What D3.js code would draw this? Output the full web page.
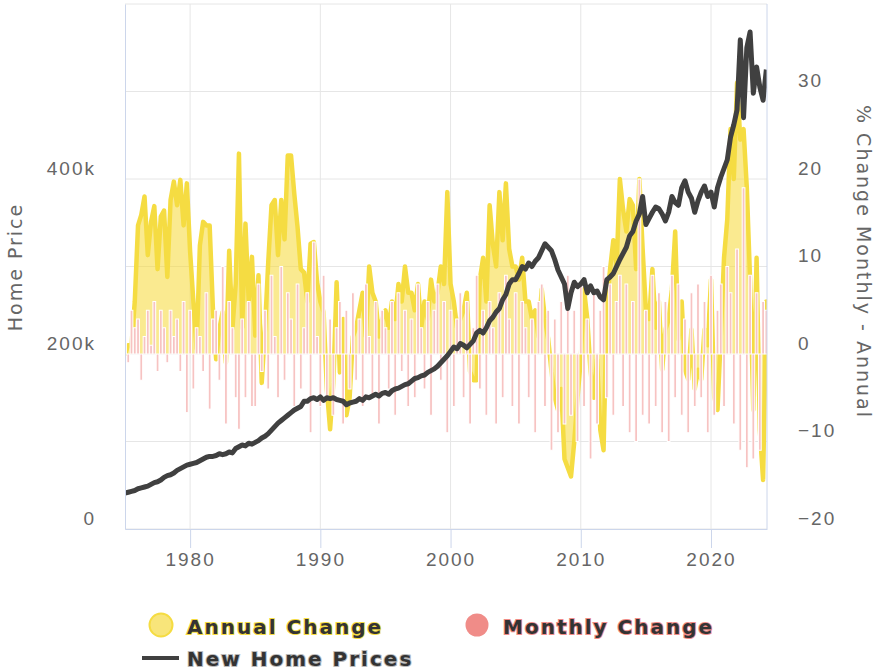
<!DOCTYPE html>
<html>
<head>
<meta charset="utf-8">
<script src="https://cdn.jsdelivr.net/npm/d3@7"></script>
<style>
  body { margin: 0; background: #fff; }
  svg { display: block; font-family: "DejaVu Sans", sans-serif; }
</style>
</head>
<body>
<script>
// quarterly points, first one is 1975 Q1
const startYear = 1975

// new home price, thousands of $
const priceK = [
  41, 42, 43, 44,   46, 47, 48, 49,   51, 53, 54, 56,   59, 61, 62, 64,   67, 69, 71, 73,
  74, 75, 76, 78,   80, 82, 83, 83,   84, 86, 85, 86,   88, 87, 92, 94,   96, 95, 98, 97,
  99, 101, 104, 106,   109, 113, 117, 121,   124, 127, 130, 133,   136, 138, 140, 146,   146, 149, 150, 148,
  151, 147, 150, 149,   150, 148, 147, 146,   142, 144, 145, 146,   149, 147, 151, 150,   152, 154, 152, 155,
  156, 154, 158, 160,   161, 163, 165, 166,   169, 172, 173, 175,   176, 179, 181, 183,   186, 190, 194, 198,
  203, 208, 206, 212,   210, 207, 211, 215,   224, 227, 224, 230,   238, 242, 248, 252,   262, 268, 280, 285,
  285, 292, 300, 297,   304, 300, 306, 310,   318, 326, 322, 318,   308, 296, 288, 280,   252, 270, 282, 277,
  280, 285, 270, 278,   270, 272, 265, 262,   285, 288, 292, 300,   308, 315, 322, 335,   340, 352, 360, 380,
  348, 355, 362, 368,   366, 360, 352, 362,   380, 373, 370, 390,   398, 385, 378, 362,   375, 385, 392, 380,
  385, 368, 390, 402,   412, 422, 448, 462,   479, 559, 470, 550,   568, 498, 528, 505,   490, 525
]

// year over year change, %
const annualPct = [
  0, 1, 1, 6,   14.7, 15.9, 18, 11.3,   15.1, 16.9, 9.7, 15.7,   16.4, 8.8, 17.6, 19.7,   17, 19.9, 14.7, 19.5,
  11.7, 6, 0.6, 12.4,   15.1, 14.7, 14.7, 5.2,   -0.6, 2.9, 4.8, -1,   11.8, 2.9, 8, 22.9,   3, 14.9, 6, 11.1,
  2.1, 9, -3.3, 2.9,   10.5, 17, 17.6, 11.3,   17.6, 13.1, 22.7, 22.7,   18.3, 14.5, 9.7, 9.3,   6, 12.6, 12.8, 8.2,
  6, 4.8, -4, -8.6,   -3.3, 8.2, -2.1, 4,   -7, -5, 2, 3,   5, 7, 2, 10,   7, 6, 2, 4,
  5, 3, 6, 4,   8, 6, 10, 7,   7, 5, 8, 3,   6, 4, 8.5, 6,   7, 10, 8, 18.5,
  8, 6, 3, 4,   5, 7, -2, -3,   -3, 8.5, 11, 6,   17, 12.5, 10, 18.5,   13, 19.5, 12, 10,
  10, 8.5, 11, 6,   6, 4, 5, 2,   7.4, 4, 1.7, -2,   -5, -6.4, -4, -12,   -13, -14, -10, -5,
  -0.6, 7.4, 4, -2,   -5, -0.6, -8.7, -11,   6, 9.7, 13, 10,   20, 16.5, 14, 17.7,   17, 9.7, 20, 12,
  5, 4, 9.7, 3,   6, -1.8, 2.8, 4,   7.4, 14, 1.7, 6,   -1.8, -2.9, 2.8, -4,   -1.8, -2.9, 2.8, 1,
  8.5, -5, -6.4, 2,   11, 15.4, 25.7, 20,   31, 24.5, 25.7, 19,   8.5, -6.4, 11, -8.7,   -14.4, 6
]

// month over month change, %
const monthlyPct = [
  2, -1, 5, 3,   4, -3, 2, 5,   1, 6, -2, 5,   3, -1, 5, 2,   4, -2, 6, -6.7,
  5, -4, 3, 2,   -2, 7, -6.3, 4,   5, -3, 10, -8,   6, 3, -5, -8.6,   4, -5, 6, -6,
  -6, 8, -2, 5,   -4, 9, 2, -5,   10, -3, 7, 4,   -6, 8, -4, 3,   7, -9, 12.8, 2,
  -6, 9, -5, 4,   -7, 3, 6, -8,   5, -4, 7, -3,   4, -6, 8, 2,   -5, 6, -8, 5,
  3, -4, 6, -7,   7, -2, 5, -6,   4, -5, 8, 3,   -4, 6, -7, 5,   8, -3, 6, -9,
  5, -6, 4, 7,   -5, 6, -8, 3,   9, -4, 5, -7,   6, 3, -8, 7,   -5, 9, 4, -6,
  7, -8, 6, 3,   -5, 4, -9, 6,   8, -6, 5, -11,   4, -9, 6, -8,   9, -7, 5, -10,
  8, -6, 4, -12,   7, -8, 5, 10,   -5, 8, -7, 6,   9, -6, 8, -9,   6, -10, 20, -7,
  5, -8, 9, -6,   7, -9, 6, -10,   9, -5, 8, -7,   4, -9, 7, -6,   8, -5, 6, -9,
  9, -7, 5, 8,   -6, 10, 7, -8,   12, -11, 19, -13,   9, -12, 7, -11,   6, 5
]

const yearTicks = [1980, 1990, 2000, 2010, 2020]
const priceTicks = [0, 200, 400]
const pctTicks = [-20, -10, 0, 10, 20, 30]
const gridPct = [-20, -10, 0, 10, 20, 30, 40]

const quarters = priceK.map((d, i) => startYear + i / 4)

const width = 874, height = 671
const plot = { left: 125, right: 767, top: 4, bottom: 529 }

const colors = {
  annual: "#f5dc42",
  annualFill: "rgba(245, 216, 53, 0.55)",
  monthly: "#f08c88",
  monthlyBar: "#f7c3c2",
  price: "#404040",
  grid: "#e6e6e6",
  axis: "#ccd6eb",
  text: "#666666"
}

var svg = d3.select("body").append("svg")
  .attr("width", width)
  .attr("height", height)

var x = d3.scaleLinear().domain([1975, 2024.3]).range([plot.left, plot.right])
var yPrice = d3.scaleLinear().domain([0, 600]).range([plot.bottom, plot.top])
var yPct = d3.scaleLinear().domain([-20, 40]).range([plot.bottom, plot.top])

// grid
svg.append("g").selectAll("line")
  .data(gridPct)
  .join("line")
  .attr("x1", plot.left).attr("x2", plot.right)
  .attr("y1", d => yPct(d)).attr("y2", d => yPct(d))
  .attr("stroke", colors.grid)
svg.append("g").selectAll("line")
  .data(yearTicks)
  .join("line")
  .attr("x1", d => x(d)).attr("x2", d => x(d))
  .attr("y1", plot.top).attr("y2", plot.bottom)
  .attr("stroke", colors.grid)

svg.append("clipPath").attr("id", "clip")
  .append("rect")
  .attr("x", plot.left).attr("y", plot.top)
  .attr("width", plot.right - plot.left).attr("height", plot.bottom - plot.top)

var chart = svg.append("g").attr("clip-path", "url(#clip)")

// annual change: area + thick line
var annual = quarters.map((q, i) => [q, annualPct[i]])
chart.append("path")
  .datum(annual)
  .attr("fill", colors.annualFill)
  .attr("d", d3.area().x(d => x(d[0])).y0(yPct(0)).y1(d => yPct(d[1])))
chart.append("path")
  .datum(annual)
  .attr("fill", "none")
  .attr("stroke", colors.annual)
  .attr("stroke-width", 4.5)
  .attr("stroke-linejoin", "round")
  .attr("stroke-linecap", "round")
  .attr("d", d3.line().x(d => x(d[0])).y(d => yPct(d[1])))

// monthly change bars
var barW = (x(startYear + 0.25) - x(startYear)) * 0.85
chart.append("g").selectAll("rect")
  .data(quarters.map((q, i) => [q, monthlyPct[i]]))
  .join("rect")
  .attr("x", d => x(d[0]) - barW / 2)
  .attr("width", barW)
  .attr("y", d => Math.min(yPct(d[1]), yPct(0)))
  .attr("height", d => Math.abs(yPct(d[1]) - yPct(0)))
  .attr("fill", colors.monthlyBar)
  .attr("stroke", "#fff")
  .attr("stroke-width", 1)

// price line
chart.append("path")
  .datum(quarters.map((q, i) => [q, priceK[i]]))
  .attr("fill", "none")
  .attr("stroke", colors.price)
  .attr("stroke-width", 5)
  .attr("stroke-linejoin", "round")
  .attr("d", d3.line().x(d => x(d[0])).y(d => yPrice(d[1])))

// axes
function styleAxis(g) {
  g.selectAll("text")
    .attr("fill", colors.text)
    .style("font-size", "19px")
    .style("letter-spacing", "2px")
  g.selectAll("line").attr("stroke", colors.axis)
  g.select(".domain").attr("stroke", colors.axis)
}

svg.append("g")
  .attr("transform", "translate(0," + plot.bottom + ")")
  .call(d3.axisBottom(x).tickValues(yearTicks).tickSize(19).tickPadding(5).tickFormat(d3.format("d")).tickSizeOuter(0))
  .call(styleAxis)

svg.append("g")
  .attr("transform", "translate(" + plot.left + ",0)")
  .call(d3.axisLeft(yPrice).tickValues(priceTicks).tickSize(0).tickPadding(29)
    .tickFormat(d => d === 0 ? "0" : d + "k"))
  .call(styleAxis)
  .call(g => g.selectAll("text").attr("dy", "-0.25em"))

svg.append("g")
  .attr("transform", "translate(" + plot.right + ",0)")
  .call(d3.axisRight(yPct).tickValues(pctTicks).tickSize(0).tickPadding(31))
  .call(styleAxis)
  .call(g => g.selectAll("text").attr("dy", "-0.25em"))
  .call(g => g.select(".domain").attr("d", "M0," + plot.top + "V" + plot.bottom))

// axis titles
svg.append("text")
  .attr("transform", "translate(22,267) rotate(-90)")
  .attr("text-anchor", "middle")
  .attr("fill", colors.text)
  .style("font-size", "19px")
  .style("letter-spacing", "2px")
  .text("Home Price")

svg.append("text")
  .attr("transform", "translate(857,262) rotate(90)")
  .attr("text-anchor", "middle")
  .attr("fill", colors.text)
  .style("font-size", "19px")
  .style("letter-spacing", "2px")
  .text("% Change Monthly - Annual")

// legend
var legend = svg.append("g")
legend.append("circle").attr("cx", 161).attr("cy", 625).attr("r", 11.5)
  .attr("fill", "#f8e57a").attr("stroke", colors.annual).attr("stroke-width", 2)
legend.append("circle").attr("cx", 477).attr("cy", 625).attr("r", 11.5)
  .attr("fill", colors.monthly)
legend.append("line").attr("x1", 142).attr("x2", 179).attr("y1", 658).attr("y2", 658)
  .attr("stroke", colors.price).attr("stroke-width", 4)

var legendItems = [
  { label: "Annual Change", x: 187, y: 634, outline: colors.annual },
  { label: "Monthly Change", x: 503, y: 634, outline: colors.monthly },
  { label: "New Home Prices", x: 187, y: 666, outline: "#bbbbbb" }
]
legend.selectAll("text.item")
  .data(legendItems)
  .join("text")
  .attr("class", "item")
  .attr("x", d => d.x)
  .attr("y", d => d.y)
  .attr("fill", "#333")
  .attr("stroke", d => d.outline)
  .attr("stroke-width", 2)
  .attr("paint-order", "stroke")
  .style("font-size", "20px")
  .style("font-weight", "bold")
  .style("letter-spacing", "2px")
  .text(d => d.label)
</script>
</body>
</html>
